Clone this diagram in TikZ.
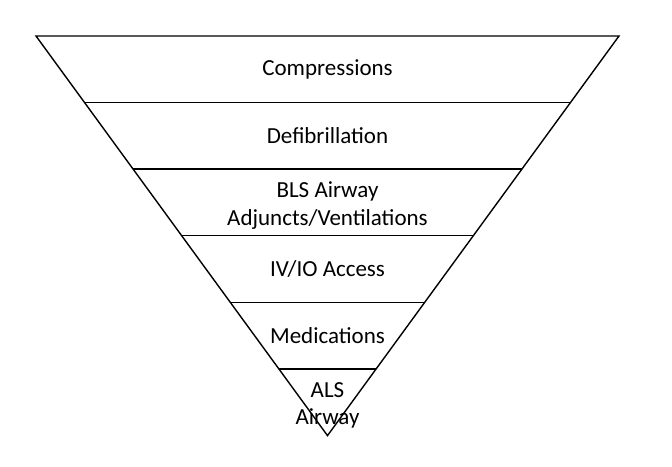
\documentclass[tikz,border=0pt]{standalone}
\usepackage{fontspec}
\setmainfont{Carlito}
\usetikzlibrary{calc}
\begin{document}
\begin{tikzpicture}[x=1pt,y=1pt,
  edge/.style={draw=black,line width=1.4pt,line join=miter},
  lbl/.style={align=center,inner sep=0pt,font=\fontsize{23}{27.4}\selectfont,text=black},
  twoline/.style={lbl,yshift=-3pt}]
\useasboundingbox (0,0) rectangle (672,466);
\coordinate (tl) at (36,430);
\coordinate (tr) at (619,430);
\coordinate (ap) at (327.5,30.4);
\coordinate (top) at ($(tl)!0.5!(tr)$);
\foreach \k in {1,...,5}{
  \coordinate (l\k) at ($(tl)!\k/6!(ap)$);
  \coordinate (r\k) at ($(tr)!\k/6!(ap)$);
}
\draw[edge] (tl) -- (tr) -- (ap) -- cycle;
\foreach \k in {1,...,5}{
  \draw[edge] (l\k) -- (r\k);
}
\node[lbl] (n1) at ($(top)!1/12!(ap)$) {Compressions};
\node[lbl] (n2) at ($(top)!3/12!(ap)$) {Defibrillation};
\node[twoline] (n3) at ($(top)!5/12!(ap)$) {BLS Airway\\Adjuncts/Ventilations};
\node[lbl] (n4) at ($(top)!7/12!(ap)$) {IV/IO Access};
\node[lbl] (n5) at ($(top)!9/12!(ap)$) {Medications};
\node[twoline] (n6) at ($(top)!11/12!(ap)$) {ALS\\Airway};
\end{tikzpicture}
\end{document}
